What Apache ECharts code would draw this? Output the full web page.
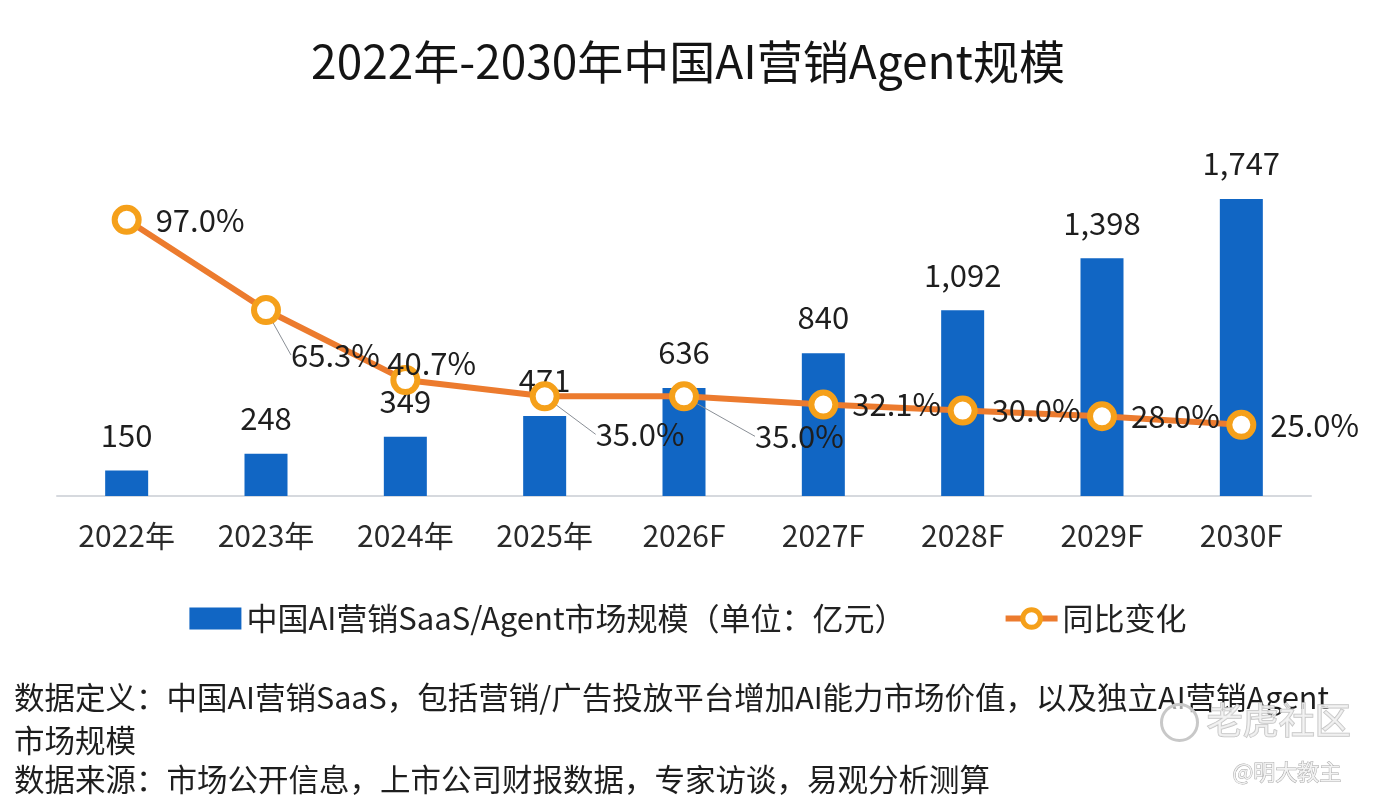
<!DOCTYPE html>
<html>

<head>
    <meta charset="utf-8">
    <script src="https://cdn.jsdelivr.net/npm/echarts@6/dist/echarts.min.js"></script>
    <title>AI营销Agent规模</title>
</head>

<body style="margin:0;background:#fff;">
    <div id="main" style="width:1376px;height:804px;"></div>
    <script type="text/javascript">
        var years = ['2022年', '2023年', '2024年', '2025年', '2026F', '2027F', '2028F', '2029F', '2030F'];
        var marketSize = [150, 248, 349, 471, 636, 840, 1092, 1398, 1747];
        var yoyGrowth = [97.0, 65.3, 40.7, 35.0, 35.0, 32.1, 30.0, 28.0, 25.0];
        var barName = '中国AI营销SaaS/Agent市场规模（单位：亿元）';
        var lineName = '同比变化';
        var noteLines = [
            '数据定义：中国AI营销SaaS，包括营销/广告投放平台增加AI能力市场价值，以及独立AI营销Agent',
            '市场规模',
            '数据来源：市场公开信息，上市公司财报数据，专家访谈，易观分析测算'
        ];

        var FONT = '"Noto Sans CJK SC", "Noto Sans", sans-serif';

        // hand placed growth labels (offsets from default right position)
        var growthLabelMove = {
            1: { dx: -4, dy: 45, line: true },
            2: { dx: -47, dy: -17, line: false },
            3: { dx: 22, dy: 38, line: true },
            4: { dx: 42, dy: 40, line: true }
        };

        var lineData = yoyGrowth.map(function(v, i) {
            var m = growthLabelMove[i];
            return {
                value: v,
                labelLine: { show: !!(m && m.line) }
            };
        });

        var myChart = echarts.init(document.getElementById('main'));

        var option = {
            backgroundColor: '#fff',
            textStyle: { fontFamily: FONT },
            title: {
                text: '2022年-2030年中国AI营销Agent规模',
                left: 'center',
                top: 34,
                textStyle: {
                    fontFamily: FONT,
                    fontSize: 46,
                    fontWeight: 'normal',
                    color: '#141414'
                }
            },
            legend: {
                top: 598,
                left: 'center',
                itemWidth: 52,
                itemHeight: 22,
                itemGap: 97,
                textStyle: { fontFamily: FONT, fontSize: 31, color: '#222' },
                data: [{
                    name: barName,
                    icon: 'rect'
                }, {
                    name: lineName,
                    lineStyle: { width: 6, color: '#ec7b2e' },
                    itemStyle: { color: '#fff', borderColor: '#f5a01a', borderWidth: 5 }
                }]
            },
            grid: {
                left: 57,
                right: 65,
                top: 156,
                bottom: 308
            },
            xAxis: {
                type: 'category',
                data: years,
                axisTick: { show: false },
                axisLine: { lineStyle: { color: '#d6d9de', width: 2 } },
                axisLabel: {
                    margin: 25,
                    fontFamily: FONT,
                    fontSize: 30,
                    color: '#2a2a2a'
                }
            },
            yAxis: [{
                type: 'value',
                min: 0,
                max: 2000,
                show: false,
                splitLine: { show: false }
            }, {
                type: 'value',
                min: 0,
                max: 119.4,
                show: false,
                splitLine: { show: false }
            }],
            series: [{
                name: barName,
                type: 'bar',
                data: marketSize,
                barWidth: 43,
                itemStyle: { color: '#1166c4' },
                label: {
                    show: true,
                    position: 'top',
                    distance: 20,
                    fontFamily: FONT,
                    fontSize: 31,
                    color: '#1e1e1e',
                    formatter: function(p) {
                        return String(p.value).replace(/\B(?=(\d{3})+(?!\d))/g, ',');
                    }
                },
                z: 2
            }, {
                name: lineName,
                type: 'line',
                yAxisIndex: 1,
                data: lineData,
                symbol: 'circle',
                symbolSize: 24,
                lineStyle: { color: '#ec7b2e', width: 6 },
                itemStyle: {
                    color: '#fff',
                    borderColor: '#f5a01a',
                    borderWidth: 6
                },
                label: {
                    show: true,
                    position: 'right',
                    distance: 14,
                    fontFamily: FONT,
                    fontSize: 31,
                    color: '#1e1e1e',
                    formatter: function(p) {
                        return p.value.toFixed(1) + '%';
                    }
                },
                labelLine: {
                    show: false,
                    lineStyle: { color: '#8a8f96', width: 1 }
                },
                labelLayout: function(params) {
                    var m = growthLabelMove[params.dataIndex];
                    if (!m) {
                        return {};
                    }
                    return { dx: m.dx, dy: m.dy };
                },
                z: 3
            }],
            graphic: [{
                type: 'text',
                left: 14,
                top: 682,
                style: { text: noteLines[0], font: '30.5px ' + FONT, fill: '#1e1e1e' }
            }, {
                type: 'text',
                left: 14,
                top: 725,
                style: { text: noteLines[1], font: '30.5px ' + FONT, fill: '#1e1e1e' }
            }, {
                type: 'text',
                left: 14,
                top: 764,
                style: { text: noteLines[2], font: '30.5px ' + FONT, fill: '#1e1e1e' }
            }, {
                type: 'circle',
                left: 1160,
                top: 703,
                shape: { r: 18 },
                style: { fill: 'rgba(255,255,255,0.6)', stroke: '#c8c8c8', lineWidth: 3 }
            }, {
                type: 'text',
                left: 1206,
                top: 702,
                style: {
                    text: '老虎社区',
                    font: '36px ' + FONT,
                    fill: 'rgba(240,240,240,0.8)',
                    stroke: '#c4c4c4',
                    lineWidth: 1.5
                }
            }, {
                type: 'text',
                left: 1232,
                top: 760,
                style: {
                    text: '@明大教主',
                    font: '22px ' + FONT,
                    fill: '#f2f2f2',
                    stroke: '#a8a8a8',
                    lineWidth: 1
                }
            }]
        };

        myChart.setOption(option);
    </script>
</body>

</html>
